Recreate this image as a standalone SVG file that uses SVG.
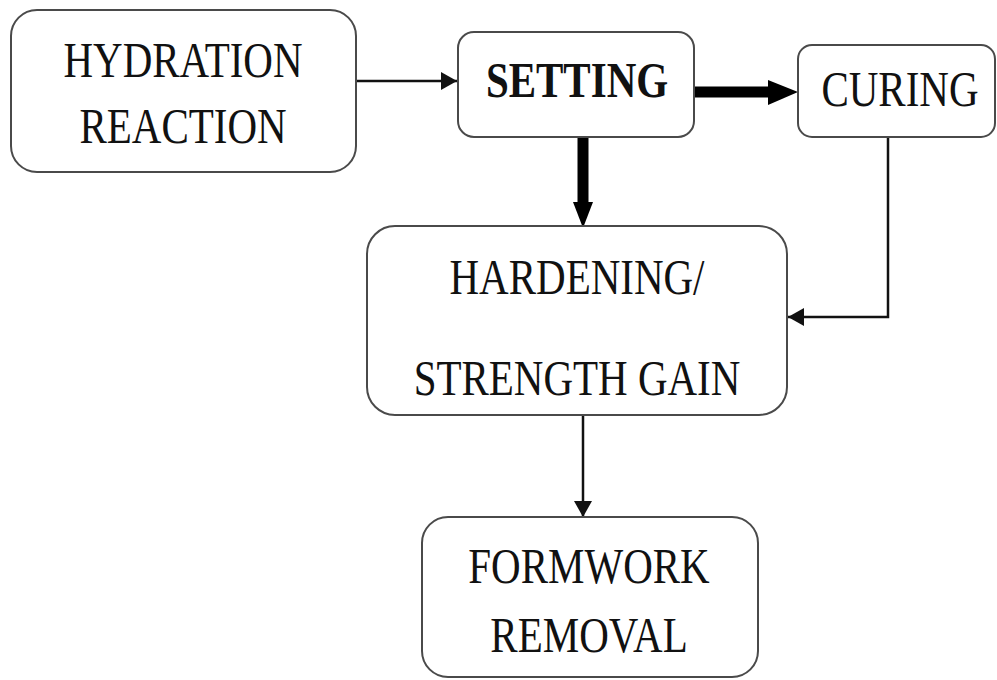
<svg xmlns="http://www.w3.org/2000/svg" width="997" height="680" viewBox="0 0 997 680">
  <style>
    .box { fill: #ffffff; stroke: #4a4a4a; stroke-width: 2; }
    .lbl { font-family: "Liberation Serif", "Times New Roman", serif; font-size: 41px; fill: #111111; text-anchor: middle; }
    .bold { font-weight: bold; }
    .thin { fill: none; stroke: #111111; stroke-width: 2.5; }
    .thick { fill: none; stroke: #000000; stroke-width: 11; }
  </style>
  <defs>
    <marker id="headThin" markerUnits="userSpaceOnUse" viewBox="0 0 16 18" refX="16" refY="9" markerWidth="16" markerHeight="18" orient="auto">
      <path d="M0,0 L16,9 L0,18 Z" fill="#111111"/>
    </marker>
    <marker id="headThick" markerUnits="userSpaceOnUse" viewBox="0 0 28 24" refX="28" refY="12" markerWidth="28" markerHeight="24" orient="auto">
      <path d="M0,0 L28,12 L0,24 Z" fill="#000000"/>
    </marker>
  </defs>

  <rect width="997" height="680" fill="#ffffff"/>

  <g id="connectors">
    <!-- hydration reaction to setting -->
    <line class="thin" x1="356" y1="81" x2="457" y2="81" marker-end="url(#headThin)"/>
    <!-- setting to curing -->
    <line class="thick" x1="695" y1="92" x2="770" y2="92"/>
    <path d="M768,80 L798,92 L768,105 Z" fill="#000000"/>
    <!-- setting down to hardening -->
    <line class="thick" x1="583" y1="137" x2="583" y2="204"/>
    <path d="M573,202 L593,202 L583,228 Z" fill="#000000"/>
    <!-- curing round to hardening -->
    <polyline class="thin" points="888,137 888,317 788,317" marker-end="url(#headThin)"/>
    <!-- hardening to formwork removal -->
    <line class="thin" x1="583" y1="415" x2="583" y2="517" marker-end="url(#headThin)"/>
  </g>

  <g id="hydration">
    <rect class="box" x="11" y="10" width="345" height="162" rx="26" ry="26"/>
    <text class="lbl" transform="translate(183,77) scale(1,1.25)">HYDRATION</text>
    <text class="lbl" transform="translate(183,143) scale(1,1.25)">REACTION</text>
  </g>

  <g id="setting">
    <rect class="box" x="458" y="32" width="236" height="105" rx="16" ry="16"/>
    <text class="lbl bold" transform="translate(577,97) scale(1,1.25)">SETTING</text>
  </g>

  <g id="curing">
    <rect class="box" x="798" y="45" width="197" height="92" rx="14" ry="14"/>
    <text class="lbl" transform="translate(900,106) scale(1,1.25)">CURING</text>
  </g>

  <g id="hardening">
    <rect class="box" x="367" y="226" width="420" height="189" rx="28" ry="28"/>
    <text class="lbl" transform="translate(577,294) scale(1,1.25)">HARDENING/</text>
    <text class="lbl" transform="translate(577,395) scale(1,1.25)">STRENGTH GAIN</text>
  </g>

  <g id="formwork">
    <rect class="box" x="422" y="517" width="336" height="160" rx="26" ry="26"/>
    <text class="lbl" transform="translate(589,583) scale(1,1.25)">FORMWORK</text>
    <text class="lbl" transform="translate(589,652) scale(1,1.25)">REMOVAL</text>
  </g>
</svg>
